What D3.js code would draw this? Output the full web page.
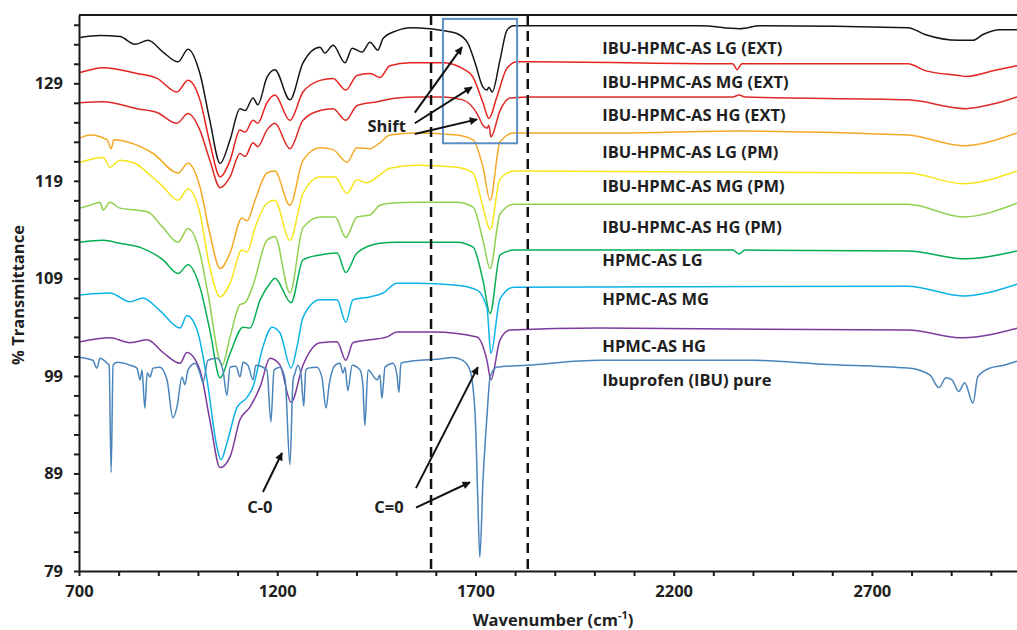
<!DOCTYPE html>
<html>
<head>
<meta charset="utf-8">
<script src="https://cdn.jsdelivr.net/npm/d3@7"></script>
<style>
  html, body { margin: 0; padding: 0; background: #fff; }
  svg { display: block; font-family: "Open Sans", "Liberation Sans", sans-serif; }
  .axis path, .axis line { stroke: #1a1a1a; stroke-width: 2; }
  .axis text { font-size: 16.5px; font-weight: 700; fill: #1f1f1f; font-family: "Open Sans", sans-serif; }
  .series-label { font-size: 16.5px; font-weight: 700; fill: #1f1f1f; }
  .note { font-size: 16.5px; font-weight: 700; fill: #1f1f1f; }
  .title { font-size: 16.5px; font-weight: 700; fill: #1f1f1f; }
</style>
</head>
<body>
<svg id="chart" width="1017" height="630"></svg>
<script>
// ---- data: [wavenumber (cm-1), % transmittance] ----

const extLG = [[703,133.7],[753,133.9],[803,133.8],[841,133.0],[874,133.4],[912,132.2],[950,131.2],[975,132.5],[1005,130.0],[1030,125.2],[1056,120.8],[1081,123.2],[1106,126.4],[1119,126.2],[1139,127.5],[1151,126.8],[1174,129.6],[1194,130.4],[1232,127.3],[1265,131.1],[1308,132.7],[1320,132.1],[1341,132.9],[1371,131.1],[1389,132.6],[1414,132.2],[1434,133.2],[1454,132.4],[1467,133.6],[1502,134.4],[1535,134.7],[1585,134.6],[1618,134.4],[1653,134.1],[1681,133.1],[1699,131.1],[1719,128.6],[1729,128.3],[1734,128.6],[1742,128.1],[1762,131.4],[1779,134.4],[1795,134.9],[1845,134.9],[2266,134.9],[2367,134.6],[2418,134.9],[2791,134.7],[2834,134.0],[2919,133.4],[2955,133.4],[2980,134.0],[3023,134.5],[3066,134.5]];

const extMG = [[703,130.1],[761,130.6],[846,130.0],[897,129.5],[947,128.1],[975,129.3],[1005,127.3],[1030,122.9],[1056,119.4],[1081,121.1],[1106,124.2],[1119,124.0],[1139,125.2],[1151,124.9],[1174,127.0],[1194,127.8],[1232,125.2],[1265,128.1],[1308,129.3],[1341,129.5],[1373,128.3],[1401,129.8],[1434,130.0],[1459,129.6],[1484,130.8],[1535,131.1],[1618,131.1],[1668,130.5],[1694,129.6],[1719,127.0],[1734,125.4],[1754,127.6],[1779,130.5],[1805,131.2],[1845,131.2],[2317,131.0],[2349,131.0],[2360,130.4],[2372,131.0],[2791,131.0],[2834,130.3],[2919,129.8],[2937,129.7],[3008,130.3],[3066,130.8]];

const extHG = [[703,127.0],[761,127.1],[846,126.4],[897,126.0],[947,124.9],[975,125.9],[1005,124.2],[1030,121.1],[1056,118.3],[1081,119.4],[1106,121.8],[1119,121.5],[1139,122.9],[1151,122.5],[1174,124.2],[1194,124.9],[1232,122.3],[1265,125.2],[1308,126.2],[1341,126.4],[1373,125.2],[1401,126.7],[1452,127.1],[1502,127.5],[1552,127.6],[1618,127.6],[1668,127.3],[1704,125.9],[1719,124.7],[1729,124.4],[1734,124.7],[1739,123.5],[1762,126.2],[1787,127.5],[1845,127.6],[2349,127.6],[2365,127.8],[2380,127.6],[2791,127.3],[2937,126.4],[3008,126.9],[3066,127.6]];

const pmLG = [[703,123.4],[728,123.7],[771,123.2],[781,122.3],[788,123.2],[829,122.9],[887,121.8],[950,119.8],[975,120.8],[1005,118.4],[1030,113.6],[1056,110.0],[1081,111.6],[1111,115.2],[1124,114.9],[1144,117.0],[1174,119.8],[1194,120.0],[1232,116.5],[1265,121.1],[1308,122.4],[1341,122.2],[1376,120.9],[1401,122.4],[1434,122.3],[1459,122.9],[1484,123.7],[1552,123.9],[1653,123.7],[1694,123.2],[1719,120.4],[1737,117.0],[1762,123.0],[1797,123.9],[2057,123.9],[2360,124.1],[2791,123.7],[2929,122.6],[3066,123.9]];

const pmMG = [[703,120.9],[761,121.4],[778,120.4],[803,121.1],[841,120.8],[879,119.6],[912,118.4],[950,117.0],[975,118.2],[1005,115.7],[1030,110.1],[1056,107.1],[1081,108.5],[1111,111.9],[1124,111.7],[1144,114.2],[1174,116.7],[1194,117.0],[1232,112.9],[1265,117.7],[1308,119.4],[1346,119.4],[1376,117.7],[1401,119.1],[1426,118.8],[1459,119.6],[1484,120.3],[1552,120.6],[1653,120.4],[1694,119.8],[1719,116.3],[1737,114.0],[1762,119.2],[1797,120.0],[2791,119.8],[2929,118.7],[3066,120.0]];

const pmHG = [[703,116.2],[728,116.5],[753,116.8],[761,116.0],[778,116.8],[803,116.2],[846,116.0],[874,115.8],[912,114.2],[950,112.7],[975,114.1],[1005,111.6],[1025,107.5],[1061,100.1],[1081,103.0],[1106,106.3],[1119,106.5],[1139,108.3],[1174,112.9],[1194,113.3],[1232,107.5],[1265,114.2],[1308,115.3],[1346,115.3],[1373,113.2],[1401,115.3],[1434,115.5],[1459,116.5],[1484,116.7],[1552,116.8],[1653,116.8],[1694,116.3],[1719,112.9],[1737,110.0],[1762,115.6],[1797,116.6],[2791,116.6],[2929,115.3],[3066,116.7]];

const asLG = [[703,112.7],[761,112.9],[803,112.6],[859,112.1],[912,110.9],[950,109.5],[975,110.4],[1005,108.1],[1030,103.7],[1056,98.8],[1081,101.3],[1114,104.0],[1131,103.9],[1157,106.8],[1182,108.5],[1194,109.0],[1235,106.5],[1265,110.9],[1308,111.4],[1351,111.6],[1373,109.6],[1401,111.6],[1459,112.6],[1502,112.7],[1653,112.7],[1694,112.2],[1719,108.8],[1737,105.4],[1762,111.4],[1797,111.9],[2349,111.9],[2365,111.5],[2380,111.9],[2791,111.8],[2937,111.0],[3066,111.8]];

const asMG = [[703,107.3],[778,107.5],[829,106.6],[861,107.0],[904,105.7],[955,103.9],[972,105.2],[998,103.7],[1023,98.6],[1048,91.7],[1058,90.4],[1073,92.1],[1099,95.8],[1124,96.8],[1139,97.9],[1164,102.0],[1187,104.0],[1207,103.4],[1235,99.8],[1250,102.0],[1265,105.0],[1308,106.8],[1351,106.8],[1373,104.5],[1391,106.8],[1434,107.1],[1467,107.5],[1502,108.5],[1552,108.5],[1653,108.3],[1704,107.8],[1729,106.0],[1739,101.3],[1762,106.9],[1797,108.1],[2791,108.2],[2929,107.2],[3066,108.4]];

const asHG = [[703,102.5],[778,102.9],[829,102.4],[872,102.7],[912,101.4],[955,100.3],[972,101.4],[1005,99.6],[1030,94.5],[1056,89.6],[1081,90.7],[1106,94.5],[1131,95.8],[1157,97.9],[1182,100.8],[1207,100.1],[1235,96.3],[1265,100.1],[1308,102.4],[1351,102.5],[1373,100.6],[1391,102.4],[1434,102.7],[1477,103.0],[1502,103.5],[1593,103.5],[1704,103.0],[1729,100.6],[1739,98.6],[1762,102.7],[1787,103.7],[2014,103.9],[2791,103.7],[2929,102.9],[3066,103.9]];

const ibuPure = [[703,100.9],[735,100.6],[745,99.8],[753,100.8],[771,100.3],[776,100.1],[781,89.1],[786,100.1],[796,100.4],[829,100.1],[846,99.8],[854,98.6],[859,99.6],[866,95.7],[872,99.3],[879,98.9],[887,99.8],[904,99.9],[922,98.6],[937,94.7],[947,95.8],[960,98.9],[967,98.1],[975,99.6],[993,100.3],[1005,99.3],[1013,98.3],[1025,100.6],[1048,100.8],[1063,99.6],[1073,97.0],[1081,99.9],[1096,100.0],[1106,98.9],[1114,100.4],[1126,100.1],[1139,98.6],[1146,100.1],[1174,99.6],[1184,94.3],[1192,99.6],[1207,99.9],[1220,98.6],[1232,89.9],[1240,98.6],[1245,99.3],[1252,100.1],[1260,99.1],[1267,95.9],[1272,99.6],[1278,99.8],[1300,99.9],[1313,98.8],[1323,95.7],[1331,98.1],[1346,100.1],[1358,100.3],[1366,99.3],[1371,99.9],[1378,97.5],[1389,100.1],[1409,99.6],[1416,98.1],[1421,93.9],[1429,99.6],[1452,98.6],[1459,99.1],[1464,96.7],[1472,99.9],[1492,100.3],[1502,99.1],[1507,97.3],[1512,100.3],[1560,100.6],[1603,100.7],[1643,100.9],[1668,100.6],[1686,99.6],[1699,95.2],[1706,86.3],[1711,80.4],[1719,88.3],[1729,94.8],[1737,98.9],[1754,99.9],[1830,100.1],[2014,100.6],[2402,100.6],[2574,100.2],[2791,99.8],[2846,99.1],[2869,97.8],[2887,98.8],[2902,98.6],[2919,97.4],[2934,98.3],[2955,96.2],[2967,98.9],[2997,99.8],[3033,100.1],[3066,100.5]];

const seriesData = [extLG, extMG, extHG, pmLG, pmMG, pmHG, asLG, asMG, asHG, ibuPure];
const seriesNames = ['IBU-HPMC-AS LG (EXT)', 'IBU-HPMC-AS MG (EXT)', 'IBU-HPMC-AS HG (EXT)',
  'IBU-HPMC-AS LG (PM)', 'IBU-HPMC-AS MG (PM)', 'IBU-HPMC-AS HG (PM)',
  'HPMC-AS LG', 'HPMC-AS MG', 'HPMC-AS HG', 'Ibuprofen (IBU) pure'];
// label anchor (% transmittance) for each series name
const labelLevels = [132.6, 129.15, 125.7, 121.9, 118.4, 114.25, 110.85, 106.9, 102.05, 98.6];

const xTicks = d3.range(700, 3001, 100);
const xTickLabels = [700, 1200, 1700, 2200, 2700];
const yTicks = d3.range(79, 136, 2);
const yTickLabels = [79, 89, 99, 109, 119, 129];

// dashed guide lines and the highlight box (cm-1 / %T)
const guideLines = [1588, 1832];
const shiftBox = { x0: 1618, x1: 1805, y0: 122.85, y1: 135.6 };

// annotations: text position and arrows [from, to]
const notes = [
  { text: 'Shift', at: [1476, 124.6], arrows: [[[1547, 126.0], [1666, 132.7]], [[1547, 124.9], [1691, 128.6]], [[1547, 123.8], [1704, 125.3]]] },
  { text: 'C-0', at: [1156, 85.5], arrows: [[[1164, 87.1], [1212, 91.1]]] },
  { text: 'C=0', at: [1482, 85.5], arrows: [[[1550, 87.5], [1706, 99.9]], [[1550, 85.5], [1686, 88.1]]] }
];

// ---- styling ----
const colors = ['#161616', '#e6231f', '#dc2a26', '#f4a927', '#f6e51c', '#92d050', '#06ad52', '#0db2e6', '#7b3a9c', '#4a84bb'];

const width = 1017;
const height = 630;
const margin = { top: 15, right: 0, bottom: 59, left: 79 };

// @desc : build the chart
function renderChart() {
  const svg = d3.select('#chart');

  const x = d3.scaleLinear()
    .domain([700, 3066])
    .range([margin.left, width - margin.right]);

  const y = d3.scaleLinear()
    .domain([79, 136])
    .range([height - margin.bottom, margin.top]);

  const defs = svg.append('defs');

  defs.append('clipPath')
      .attr('id', 'plot-clip')
    .append('rect')
      .attr('x', margin.left)
      .attr('y', margin.top)
      .attr('width', width - margin.left - margin.right)
      .attr('height', height - margin.top - margin.bottom);

  defs.append('marker')
      .attr('id', 'arrow')
      .attr('viewBox', '0 0 10 10')
      .attr('refX', 9)
      .attr('refY', 5)
      .attr('markerWidth', 10)
      .attr('markerHeight', 8)
      .attr('markerUnits', 'userSpaceOnUse')
      .attr('orient', 'auto')
    .append('path')
      .attr('d', 'M0,0 L10,5 L0,10 z')
      .attr('fill', '#111');

  // top frame line
  svg.append('line')
    .attr('x1', margin.left).attr('x2', width)
    .attr('y1', margin.top).attr('y2', margin.top)
    .attr('stroke', '#1a1a1a')
    .attr('stroke-width', 2);

  // spectra
  const line = d3.line()
    .x(d => x(d[0]))
    .y(d => y(d[1]))
    .curve(d3.curveMonotoneX);

  svg.append('g')
    .attr('clip-path', 'url(#plot-clip)')
    .selectAll('path')
    .data(seriesData)
    .enter()
    .append('path')
      .attr('d', line)
      .attr('fill', 'none')
      .attr('stroke', (d, i) => colors[i])
      .attr('stroke-width', 1.5)
      .attr('stroke-linejoin', 'round');

  // dashed guides
  svg.append('g')
    .selectAll('line')
    .data(guideLines)
    .enter()
    .append('line')
      .attr('x1', d => x(d)).attr('x2', d => x(d))
      .attr('y1', y(136)).attr('y2', y(79))
      .attr('stroke', '#111')
      .attr('stroke-width', 2.5)
      .attr('stroke-dasharray', '10,6');

  // highlight box
  svg.append('rect')
    .attr('x', x(shiftBox.x0))
    .attr('y', y(shiftBox.y1))
    .attr('width', x(shiftBox.x1) - x(shiftBox.x0))
    .attr('height', y(shiftBox.y0) - y(shiftBox.y1))
    .attr('fill', 'none')
    .attr('stroke', '#5d8fc4')
    .attr('stroke-width', 2);

  // series names
  svg.append('g')
    .selectAll('text')
    .data(seriesNames)
    .enter()
    .append('text')
      .attr('class', 'series-label')
      .attr('x', x(2020))
      .attr('y', (d, i) => y(labelLevels[i]))
      .attr('dy', '0.35em')
      .text(d => d);

  // annotations
  notes.forEach(note => {
    svg.append('text')
      .attr('class', 'note')
      .attr('x', x(note.at[0]))
      .attr('y', y(note.at[1]))
      .attr('dy', '0.35em')
      .attr('text-anchor', 'middle')
      .text(note.text);
    note.arrows.forEach(a => {
      svg.append('line')
        .attr('x1', x(a[0][0])).attr('y1', y(a[0][1]))
        .attr('x2', x(a[1][0])).attr('y2', y(a[1][1]))
        .attr('stroke', '#111')
        .attr('stroke-width', 2)
        .attr('marker-end', 'url(#arrow)');
    });
  });

  // axes
  svg.append('g')
    .attr('class', 'axis')
    .attr('transform', `translate(0, ${height - margin.bottom})`)
    .call(d3.axisBottom(x)
      .tickValues(xTicks)
      .tickSize(5)
      .tickSizeOuter(0)
      .tickPadding(9)
      .tickFormat(d => xTickLabels.includes(d) ? d : ''));

  svg.append('g')
    .attr('class', 'axis')
    .attr('transform', `translate(${margin.left}, 0)`)
    .call(d3.axisLeft(y)
      .tickValues(yTicks)
      .tickSize(5)
      .tickSizeOuter(0)
      .tickPadding(11)
      .tickFormat(d => yTickLabels.includes(d) ? d : ''));

  // axis titles
  const xTitle = svg.append('text')
    .attr('class', 'title')
    .attr('x', 553)
    .attr('y', 626)
    .attr('text-anchor', 'middle');
  xTitle.append('tspan').text('Wavenumber (cm');
  xTitle.append('tspan').attr('dy', -7).attr('font-size', 11).text('-1');
  xTitle.append('tspan').attr('dy', 7).text(')');

  svg.append('text')
    .attr('class', 'title')
    .attr('transform', 'translate(24, 295) rotate(-90)')
    .attr('text-anchor', 'middle')
    .text('% Transmittance');
}

renderChart();
</script>
</body>
</html>
